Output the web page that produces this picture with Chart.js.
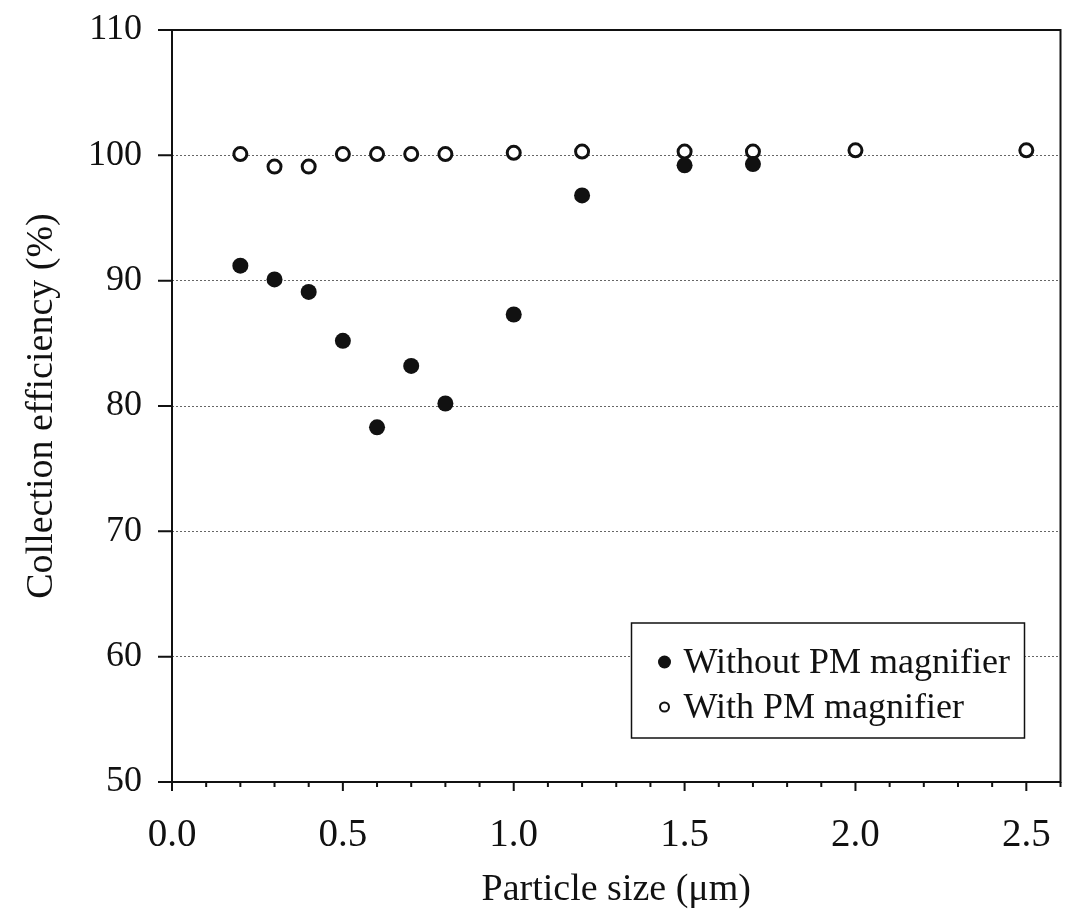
<!DOCTYPE html>
<html>
<head>
<meta charset="utf-8">
<script src="https://cdn.jsdelivr.net/npm/chart.js@4.4.1/dist/chart.umd.min.js"></script>
<style>
  html, body { margin: 0; padding: 0; background: #fff; }
  #wrap { width: 1070px; height: 913px; }
</style>
</head>
<body>
<div id="wrap"><canvas id="grafica" width="1070" height="913"></canvas></div>
<script>
// Datos
const tamanos = [0.2, 0.3, 0.4, 0.5, 0.6, 0.7, 0.8, 1.0, 1.2, 1.5, 1.7];
const sinMagnificador = [91.2, 90.1, 89.1, 85.2, 78.3, 83.2, 80.2, 87.3, 96.8, 99.2, 99.3];

const tamanosCon = [0.2, 0.3, 0.4, 0.5, 0.6, 0.7, 0.8, 1.0, 1.2, 1.5, 1.7, 2.0, 2.5];
const conMagnificador = [100.1, 99.1, 99.1, 100.1, 100.1, 100.1, 100.1, 100.2, 100.3, 100.3, 100.3, 100.4, 100.4];

const ticksX = [0.0, 0.5, 1.0, 1.5, 2.0, 2.5];
const ticksY = [50, 60, 70, 80, 90, 100, 110];

const fuente = '"Liberation Serif", "Times New Roman", serif';
const negro = '#111';

// Marco, marcas de los ejes y leyenda dentro del area
const marco = {
    id: 'marco',
    afterDraw(chart) {
        const ctx = chart.ctx;
        const a = chart.chartArea;
        const sx = chart.scales.x;
        const sy = chart.scales.y;
        ctx.save();
        ctx.strokeStyle = negro;
        ctx.lineWidth = 2;
        ctx.strokeRect(a.left, a.top, a.right - a.left, a.bottom - a.top);

        ctx.beginPath();
        ticksY.forEach(v => {
            const y = sy.getPixelForValue(v);
            ctx.moveTo(a.left - 14, y);
            ctx.lineTo(a.left, y);
        });
        // marcas menores del eje x cada 0.1
        for (let i = 0; i <= 26; i++) {
            const x = sx.getPixelForValue(i / 10);
            const largo = (i % 5 === 0) ? 9 : 5;
            ctx.moveTo(x, a.bottom);
            ctx.lineTo(x, a.bottom + largo);
        }
        ctx.stroke();

        // leyenda
        const w = 393, h = 115;
        const lx = a.right - 36 - w;
        const ly = a.bottom - 44 - h;
        ctx.lineWidth = 1.5;
        ctx.fillStyle = '#fff';
        ctx.fillRect(lx, ly, w, h);
        ctx.strokeRect(lx, ly, w, h);
        ctx.font = '36px ' + fuente;
        ctx.textBaseline = 'middle';
        ctx.textAlign = 'left';
        const filas = [ly + 39, ly + 84];
        chart.data.datasets.forEach((ds, i) => {
            const cy = filas[i];
            ctx.beginPath();
            if (i === 0) {
                ctx.fillStyle = negro;
                ctx.arc(lx + 33, cy, 6.5, 0, Math.PI * 2);
                ctx.fill();
            } else {
                ctx.lineWidth = 2;
                ctx.arc(lx + 33, cy, 4.5, 0, Math.PI * 2);
                ctx.stroke();
            }
            ctx.fillStyle = negro;
            ctx.fillText(ds.label, lx + 52, cy + 2);
        });
        ctx.restore();
    }
};

const config = {
    type: 'scatter',
    data: {
        datasets: [{
            label: 'Without PM magnifier',
            data: tamanos.map((x, i) => ({ x: x, y: sinMagnificador[i] })),
            pointRadius: 8,
            pointHoverRadius: 8,
            backgroundColor: negro,
            borderColor: negro,
            borderWidth: 0
        }, {
            label: 'With PM magnifier',
            data: tamanosCon.map((x, i) => ({ x: x, y: conMagnificador[i] })),
            pointRadius: 6.5,
            pointHoverRadius: 6.5,
            backgroundColor: '#fff',
            borderColor: negro,
            borderWidth: 3
        }]
    },
    options: {
        responsive: false,
        animation: false,
        devicePixelRatio: 1,
        layout: { padding: { top: 30, right: 9, left: 0, bottom: 0 } },
        plugins: {
            legend: { display: false },
            tooltip: { enabled: false }
        },
        scales: {
            x: {
                type: 'linear',
                min: 0,
                max: 2.6,
                afterBuildTicks: s => { s.ticks = ticksX.map(v => ({ value: v })); },
                afterFit: s => { s.height = 131; s.paddingLeft = 0; s.paddingRight = 0; },
                grid: { display: false },
                border: { display: false },
                ticks: {
                    color: negro,
                    padding: 22,
                    maxRotation: 0,
                    font: { family: fuente, size: 39 },
                    callback: v => Number(v).toFixed(1)
                },
                title: {
                    display: true,
                    text: 'Particle size (\u03bcm)',
                    color: negro,
                    font: { family: fuente, size: 38 },
                    padding: { top: 0, bottom: 0 }
                }
            },
            y: {
                min: 50,
                max: 110,
                afterBuildTicks: s => { s.ticks = ticksY.map(v => ({ value: v })); },
                afterFit: s => { s.width = 172; s.paddingTop = 0; s.paddingBottom = 0; },
                grid: {
                    drawTicks: false,
                    lineWidth: 1,
                    color: c => (c.tick && (c.tick.value === 50 || c.tick.value === 110)) ? 'rgba(0,0,0,0)' : '#666'
                },
                border: { display: false, dash: [2, 2] },
                ticks: {
                    color: negro,
                    padding: 30,
                    font: { family: fuente, size: 36 }
                },
                title: {
                    display: true,
                    text: 'Collection efficiency (%)',
                    color: negro,
                    font: { family: fuente, size: 38 },
                    padding: { top: 19, bottom: 0 }
                }
            }
        }
    },
    plugins: [marco]
};

var grafica = new Chart(document.getElementById('grafica'), config);
</script>
</body>
</html>
